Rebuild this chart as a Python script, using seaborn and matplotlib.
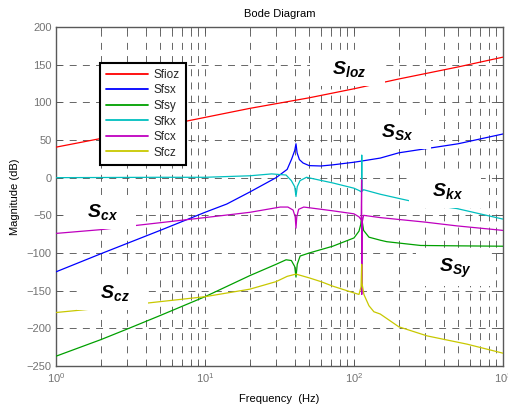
import matplotlib
matplotlib.use("Agg")
import matplotlib.pyplot as plt
import seaborn as sns
from matplotlib.ticker import LogLocator, LogFormatterMathtext, MultipleLocator, NullFormatter

# ---------------- data ----------------
series_names = ["Sfioz", "Sfsx", "Sfsy", "Sfkx", "Sfcx", "Sfcz"]

freq_ioz = [1, 2, 5, 10, 20, 50, 100, 200, 500, 1000]
mag_ioz = [40.5, 52, 68, 80, 92, 106, 118, 131, 147, 160]

freq_sx = [1, 2, 5, 10, 14, 20, 30, 35.6, 38.2, 40, 40.8, 41.5, 43, 45.5, 50, 60, 72, 100, 112, 150, 200, 500, 1000]
mag_sx = [-125, -101, -70, -46, -35, -19, 0, 11, 25, 36, 45, 33, 24, 19.5, 16, 15.5, 17, 20.5, 22, 26, 33, 45, 58]

freq_sy = [1, 2, 3, 5, 10, 20, 30, 35, 38, 40, 40.8, 41.6, 43.5, 50, 72, 100, 108, 111, 112.4, 112.9, 116, 126, 150, 166, 280, 500, 1000]
mag_sy = [-237, -215, -201, -183, -158, -130, -115, -109, -110, -118, -132, -115, -104, -100, -91, -80, -71, -62, -52, -55, -70, -79, -83, -85, -90, -90.5, -91]

freq_kx = [1, 5, 10, 20, 28, 35, 38, 40, 40.8, 41.6, 43.4, 48, 72, 100, 108, 112.3, 112.7, 113.1, 116, 150, 227, 300, 490, 700, 1000]
mag_kx = [0, 0.5, 0.5, 2.5, 5, 3.5, -4, -12, -25, -12, -4, 0.5, -7, -14, -17, -19, 30, -18, -16, -22, -30, -35, -41, -48, -55]

freq_cx = [1, 2, 3.6, 10, 20, 32, 36, 39, 40.3, 40.8, 41.3, 42.5, 46, 72, 100, 108, 111.8, 112.5, 112.8, 113.3, 116, 150, 300, 490, 1000]
mag_cx = [-74, -69, -63, -53, -46, -39, -39, -43, -52, -67, -52, -42, -39, -44, -48, -52, -56, -3, -155, -60, -50, -53, -59, -64, -70]

freq_cz = [1, 2.6, 4.3, 10, 20, 30, 35.6, 40.8, 50, 60, 72, 100, 108, 111.5, 112.6, 113.2, 116.5, 126, 136, 150, 200, 309, 574, 1000]
mag_cz = [-179, -171, -166, -158, -148, -138, -131, -128, -133, -138, -144, -153, -155, -145, -115, -140, -155, -170, -178, -181, -198, -210, -221, -233]

series_colors = ["#ff0000", "#0000ff", "#00a000", "#00bfbf", "#bf00bf", "#c8c800"]

label_texts = [r"$\mathbf{S_{loz}}$", r"$\mathbf{S_{Sx}}$", r"$\mathbf{S_{kx}}$",
               r"$\mathbf{S_{cx}}$", r"$\mathbf{S_{cz}}$", r"$\mathbf{S_{Sy}}$"]
label_freq = [90, 188, 408, 1.97, 2.38, 462]
label_mag = [144, 60.5, -18, -46, -153, -120]

# ---------------- style ----------------
sns.set_theme(style="white")
plt.rcParams["font.family"] = ["Liberation Sans", "DejaVu Sans"]
plt.rcParams["mathtext.fontset"] = "custom"
plt.rcParams["mathtext.rm"] = "Liberation Sans"
plt.rcParams["mathtext.it"] = "Liberation Sans:italic"
plt.rcParams["mathtext.bf"] = "Liberation Sans:bold:italic"
plt.rcParams["lines.scale_dashes"] = False

fig = plt.figure(figsize=(5.08, 4.08), dpi=100)
fig.patch.set_facecolor("white")
ax = fig.add_axes([56 / 508, 42 / 408, 447 / 508, 339 / 408])
ax.set_facecolor("white")

all_f = [freq_ioz, freq_sx, freq_sy, freq_kx, freq_cx, freq_cz]
all_m = [mag_ioz, mag_sx, mag_sy, mag_kx, mag_cx, mag_cz]
for name, f, m, c in zip(series_names, all_f, all_m, series_colors):
    sns.lineplot(x=f, y=m, ax=ax, color=c, lw=0.9, estimator=None, sort=False,
                 label=name, zorder=3)

ax.set_xscale("log")
ax.set_xlim(1, 1000)
ax.set_ylim(-250, 200)
ax.yaxis.set_major_locator(MultipleLocator(50))
ax.xaxis.set_major_locator(LogLocator(base=10, numticks=10))
ax.xaxis.set_minor_locator(LogLocator(base=10, subs=range(2, 10), numticks=20))
ax.xaxis.set_major_formatter(LogFormatterMathtext())
ax.xaxis.set_minor_formatter(NullFormatter())

grid_kw = dict(color="0.3", linewidth=0.6, linestyle=(0, (5, 4.5)))
ax.grid(True, which="major", axis="both", **grid_kw)
ax.grid(True, which="minor", axis="x", **grid_kw)
ax.set_axisbelow(True)

for s in ax.spines.values():
    s.set_color("0.35")
    s.set_linewidth(1.0)
    s.set_visible(True)

ax.tick_params(axis="both", which="both", direction="in", top=True, right=True,
               bottom=True, left=True, colors="0.35", labelcolor="0.45", labelsize=8)
ax.tick_params(which="major", length=4, width=0.7)
ax.tick_params(which="minor", length=2.5, width=0.6)
ax.tick_params(axis="y", pad=3)
ax.tick_params(axis="x", pad=4)

ax.set_title("Bode Diagram", fontsize=8, color="black", pad=7)
ax.set_xlabel("Frequency  (Hz)", fontsize=8, color="black", labelpad=6)
ax.set_ylabel("Magnitude (dB)", fontsize=8, color="black", labelpad=5)

# annotation labels with white background
for t, fx, my in zip(label_texts, label_freq, label_mag):
    ax.text(fx, my, "   " + t + "   ", fontsize=14, ha="center", va="center",
            color="black", zorder=5,
            bbox=dict(boxstyle="square,pad=0.35", fc="white", ec="none"))

leg = ax.legend(loc="upper left", bbox_to_anchor=((100 - 56) / 447, (366 - 63) / 339),
                borderaxespad=0, fontsize=8.5, frameon=True, fancybox=False,
                framealpha=1, edgecolor="black", handlelength=3.6,
                handletextpad=0.45, labelspacing=0.3, borderpad=0.5)
leg.get_frame().set_linewidth(1.5)
leg.set_zorder(6)
for h in leg.get_lines():
    h.set_linewidth(1.3)

fig.savefig("out.png", dpi=100, facecolor="white")
